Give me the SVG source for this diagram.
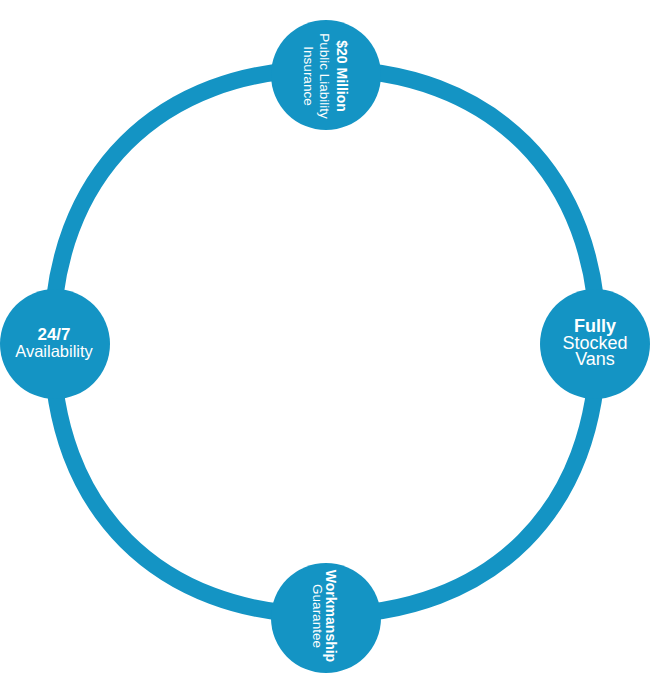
<svg xmlns="http://www.w3.org/2000/svg" width="650" height="688" viewBox="0 0 650 688">
<style>
.ring{fill:none;stroke:#1494c4;stroke-width:17}
.node{fill:#1494c4}
text{font-family:"Liberation Sans",Arial,sans-serif;fill:#ffffff;text-anchor:middle}
.b{font-weight:bold}
</style>
<rect width="650" height="688" fill="#ffffff"/>
<g id="connectors">
<path class="ring" d="M 52 342 C 52 175.5 158.5 69 325 69 C 491.5 69 598 175.5 598 342 C 598 508.5 491.5 615 325 615 C 158.5 615 52 508.5 52 342 Z"/>
</g>
<g id="node-insurance">
<circle class="node" cx="326" cy="75" r="55"/>
<g transform="translate(326,76) rotate(90)">
<text class="b" x="0" y="-10.5" font-size="14">$20 Million</text>
<text x="0" y="6" font-size="13.5">Public Liability</text>
<text x="0" y="22.5" font-size="13.5">Insurance</text>
</g>
</g>
<g id="node-availability">
<circle class="node" cx="55" cy="344" r="55"/>
<text class="b" x="54" y="340" font-size="17">24/7</text>
<text x="54" y="357" font-size="16.5">Availability</text>
</g>
<g id="node-vans">
<circle class="node" cx="595" cy="344" r="55"/>
<text class="b" x="595" y="332" font-size="18">Fully</text>
<text x="595" y="348.5" font-size="18">Stocked</text>
<text x="595" y="365" font-size="18">Vans</text>
</g>
<g id="node-guarantee">
<circle class="node" cx="326" cy="618" r="55"/>
<g transform="translate(326,616) rotate(90)">
<text class="b" x="0" y="0" font-size="14">Workmanship</text>
<text x="0" y="13.5" font-size="13.5">Guarantee</text>
</g>
</g>
</svg>
